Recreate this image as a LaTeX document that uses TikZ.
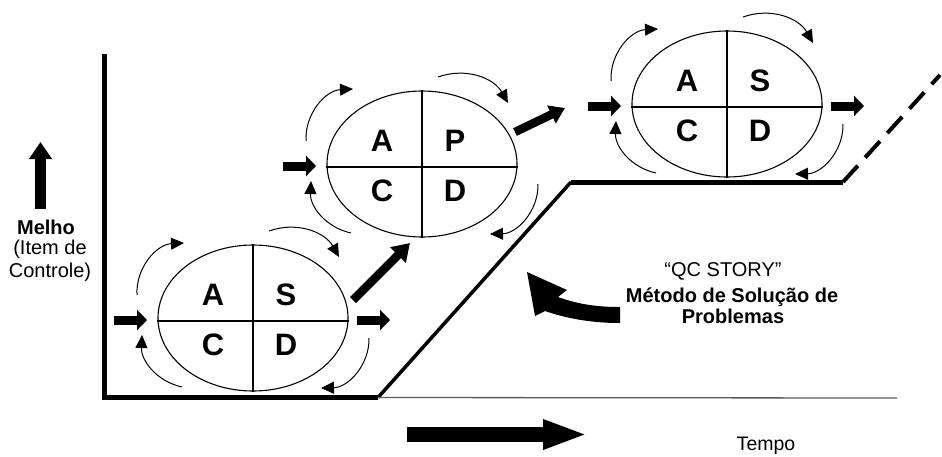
\documentclass[tikz,border=0pt]{standalone}
\usepackage{fontspec}
\setmainfont{Liberation Sans}
\usetikzlibrary{arrows.meta,shapes.geometric}
\tikzset{
 cycellipse/.style={draw, ellipse, line width=1.1pt, minimum width=190pt, minimum height=146pt, inner sep=0pt},
 divider/.style={line width=1.1pt},
 letter/.style={anchor=base, font=\fontsize{31}{36}\selectfont\bfseries, inner sep=0pt},
 cycarrow/.style={line width=1pt, -{Triangle[length=13pt,width=12pt]}},
 fatarrow/.style={line width=9pt, -{Triangle[length=10pt,width=20pt]}},
 lbl/.style={anchor=base, inner sep=0pt, font=\fontsize{20}{24}\selectfont},
 axisline/.style={line width=5pt},
}
\newcommand\pdcacycle[7]{%
\begin{scope}[shift={(#2,#3)}]
 \node[cycellipse] (#1) at (0,0) {};
 \draw[divider] (#1.north) -- (#1.south);
 \draw[divider] ([yshift=-3pt]#1.west) -- ([yshift=-3pt]#1.east);
 \node[letter] (#1-a) at (-40,-13) {#4};
 \node[letter] (#1-b) at (33,-13) {#5};
 \node[letter] (#1-c) at (-40,37) {#6};
 \node[letter] (#1-d) at (33,37) {#7};
 \coordinate (#1-in1) at (-139,2);
 \coordinate (#1-in2) at (-106,2);
 \coordinate (#1-out1) at (104,2);
 \coordinate (#1-out2) at (137,2);
 \coordinate (#1-tl1) at (-116,-23);
 \coordinate (#1-tl2) at (-69,-75);
 \coordinate (#1-tr1) at (16,-87);
 \coordinate (#1-tr2) at (86,-61);
 \coordinate (#1-br1) at (116,20);
 \coordinate (#1-br2) at (68,70);
 \coordinate (#1-bl1) at (-71,69);
 \coordinate (#1-bl2) at (-111,17);
 \draw[fatarrow] (#1-in1) -- (#1-in2);
 \draw[cycarrow] (#1-tl1) to[bend left=45] (#1-tl2);
 \draw[cycarrow] (#1-tr1) to[bend left=40] (#1-tr2);
 \draw[cycarrow] (#1-br1) to[bend left=45] (#1-br2);
 \draw[cycarrow] (#1-bl1) to[bend left=40] (#1-bl2);
\end{scope}}
\begin{document}
\begin{tikzpicture}[x=1pt,y=-1pt]
\useasboundingbox (0,0) rectangle (942,456);
% axes and staircase
\coordinate (top) at (104.5,54);
\coordinate (corner) at (104.5,397.5);
\coordinate (s1) at (378,397.5);
\coordinate (s2) at (571,182);
\coordinate (s3) at (843,182);
\coordinate (s4) at (940,75);
\coordinate (base2) at (897,398);
\draw[axisline] (top) -- (corner) -- (s1);
\draw[line width=3.5pt] (s1) -- (s2);
\draw[axisline] (s2) -- (s3);
\draw[line width=4pt, dash pattern=on 22pt off 11pt] (s3) -- (s4);
\draw[line width=1.3pt, black!65] (s1) -- (base2);
% cycles
\pdcacycle{e1}{253}{318}{A}{S}{C}{D}
\pdcacycle{e2}{422}{164}{A}{P}{C}{D}
\pdcacycle{e3}{727}{104}{A}{S}{C}{D}
\draw[fatarrow] (e1-out1) -- (e1-out2);
\draw[fatarrow] (e3-out1) -- (e3-out2);
\coordinate (d1a) at (353,300);
\coordinate (d1b) at (410,243);
\coordinate (d2a) at (515,132);
\coordinate (d2b) at (565,108);
\draw[line width=8.5pt, -{Triangle[length=17pt,width=21pt]}] (d1a) -- (d1b);
\draw[line width=8.5pt, -{Triangle[length=15pt,width=19pt]}] (d2a) -- (d2b);
% vertical axis label
\coordinate (u1) at (40.5,209);
\coordinate (u2) at (40.5,142);
\draw[line width=11pt, -{Triangle[length=17pt,width=22pt]}] (u1) -- (u2);
\node[lbl, font=\fontsize{20}{24}\selectfont\bfseries] (melho) at (46,234) {Melho};
\node[lbl] (item) at (50,254) {(Item de};
\node[lbl] (ctrl) at (50,277) {Controle)};
% time arrow
\coordinate (t1) at (407,434.5);
\coordinate (t2) at (588,434.5);
\draw[line width=15pt, -{Triangle[length=45pt,width=27pt]}] (t1) -- (t2);
\node[lbl, font=\fontsize{19.5}{23}\selectfont] (tempo) at (766,450) {Tempo};
% QC story
\fill (620,307) .. controls (600,307) and (580,305) .. (558,297) -- (567,290) -- (527,272) -- (535,316) -- (545,311) .. controls (565,318) and (590,323) .. (620,323) -- cycle;
\node[lbl] (qc) at (723,276) {“QC STORY”};
\node[lbl, font=\fontsize{20}{24}\selectfont\bfseries] (metodo) at (732,302) {Método de Solução de};
\node[lbl, font=\fontsize{20}{24}\selectfont\bfseries] (probl) at (733,323) {Problemas};
\end{tikzpicture}
\end{document}
